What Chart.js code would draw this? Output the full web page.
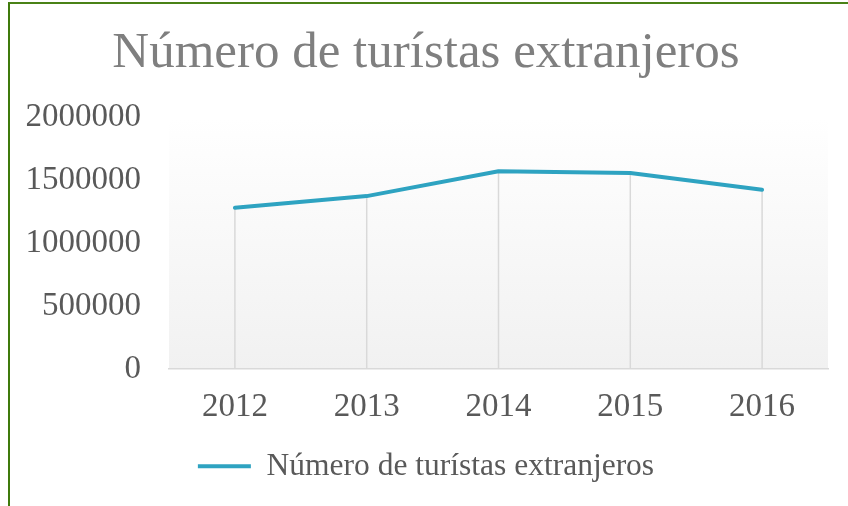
<!DOCTYPE html>
<html>
<head>
<meta charset="utf-8">
<script src="https://cdn.jsdelivr.net/npm/chart.js@4/dist/chart.umd.min.js"></script>
<style>
  html, body { margin: 0; padding: 0; background: #ffffff; overflow: hidden; width: 848px; height: 506px; }
  #wrap { position: relative; width: 848px; height: 506px; }
  #c { position: absolute; left: 0; top: 0; }
  #frame { position: absolute; left: 8px; top: 2px; width: 900px; height: 600px;
           border-left: 2px solid #3f7a0c; border-top: 2px solid #4a8216; pointer-events: none; }
</style>
</head>
<body>
<div id="wrap">
  <canvas id="c" width="848" height="506"></canvas>
  <div id="frame"></div>
</div>
<script>
const chartTitle = 'Número de turístas extranjeros';
const seriesName = 'Número de turístas extranjeros';
const years = ['2012', '2013', '2014', '2015', '2016'];
const tourists = [1280000, 1373000, 1570000, 1556000, 1424000];
const yTickLabels = ['0', '500000', '1000000', '1500000', '2000000'];

const FONT = "'Liberation Serif', 'Times New Roman', serif";

const plotBackground = {
  id: 'plotBackground',
  beforeDraw(chart) {
    const { ctx, chartArea: a } = chart;
    const g = ctx.createLinearGradient(0, a.top, 0, a.bottom);
    g.addColorStop(0, '#ffffff');
    g.addColorStop(1, '#f1f1f1');
    ctx.save();
    ctx.fillStyle = g;
    ctx.fillRect(a.left, a.top, a.right - a.left, a.bottom - a.top);
    ctx.restore();
  }
};

const dropLines = {
  id: 'dropLines',
  beforeDatasetsDraw(chart) {
    const { ctx } = chart;
    const y0 = chart.scales.y.getPixelForValue(0);
    const meta = chart.getDatasetMeta(0);
    ctx.save();
    ctx.strokeStyle = '#d9d9d9';
    ctx.lineWidth = 1.5;
    meta.data.forEach(p => {
      ctx.beginPath();
      ctx.moveTo(p.x, p.y);
      ctx.lineTo(p.x, y0);
      ctx.stroke();
    });
    ctx.restore();
  }
};

new Chart(document.getElementById('c'), {
  type: 'line',
  data: {
    labels: years,
    datasets: [{
      label: seriesName,
      data: tourists,
      borderColor: '#2ea3c1',
      backgroundColor: '#2ea3c1',
      borderWidth: 4,
      borderCapStyle: 'round',
      borderJoinStyle: 'round',
      pointRadius: 0,
      pointHoverRadius: 0,
      pointStyle: 'line',
      tension: 0,
      fill: false
    }]
  },
  options: {
    responsive: false,
    animation: false,
    devicePixelRatio: 1,
    layout: { padding: { left: 24, right: 20, top: 0, bottom: 14 } },
    plugins: {
      title: {
        display: true,
        text: chartTitle,
        color: '#7f7f7f',
        font: { family: FONT, size: 51, weight: 'normal' },
        padding: { top: 23, bottom: 33 }
      },
      legend: {
        display: true,
        position: 'bottom',
        labels: {
          color: '#595959',
          font: { family: FONT, size: 31.5 },
          usePointStyle: true,
          pointStyle: 'line',
          pointStyleWidth: 53,
          padding: 4
        }
      },
      tooltip: { enabled: false }
    },
    scales: {
      x: {
        offset: true,
        grid: { display: false, drawTicks: false },
        border: { display: true, color: '#d9d9d9', width: 1.5 },
        ticks: {
          color: '#595959',
          font: { family: FONT, size: 33 },
          padding: 19,
          maxRotation: 0
        }
      },
      y: {
        min: 0,
        max: 2000000,
        grid: { display: false, drawTicks: false },
        border: { display: false },
        afterFit: (scale) => { scale.width = 145; },
        ticks: {
          stepSize: 500000,
          color: '#595959',
          font: { family: FONT, size: 33 },
          padding: 28,
          callback: (v, i) => yTickLabels[i]
        }
      }
    }
  },
  plugins: [plotBackground, dropLines]
});
</script>
</body>
</html>
